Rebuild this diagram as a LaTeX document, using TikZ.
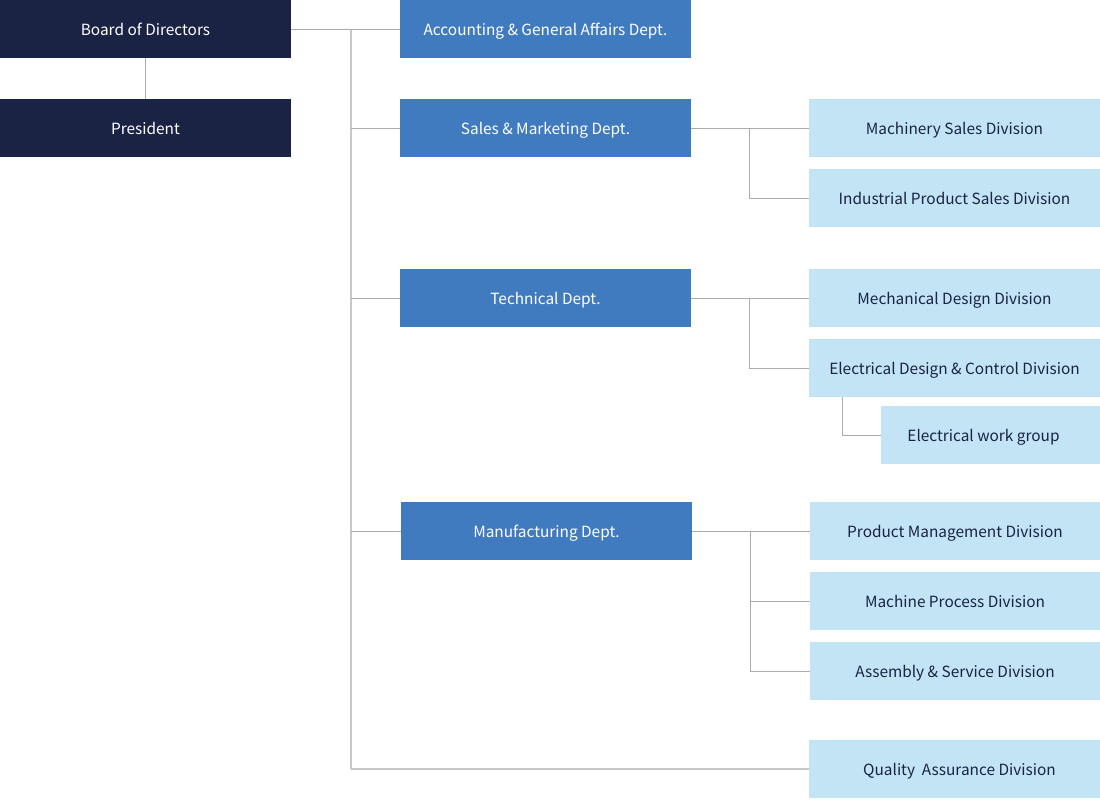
\documentclass[tikz,border=0pt]{standalone}
\usepackage{fontspec}
\setmainfont{Noto Sans CJK JP}
\definecolor{navy}{HTML}{1A2344}
\definecolor{dept}{HTML}{417BBF}
\definecolor{divi}{HTML}{C2E4F5}
\definecolor{ln}{HTML}{ABABAB}
\definecolor{trunk}{HTML}{C8C8C8}
\begin{document}
\begin{tikzpicture}[x=1pt,y=-1pt,
  box/.style={minimum width=291pt,minimum height=58pt,inner sep=0pt,text height=12.2pt,text depth=0pt,font=\fontsize{15.4}{17}\selectfont},
  topbox/.style={box,fill=navy,text=white},
  deptbox/.style={box,fill=dept,text=white},
  divbox/.style={box,fill=divi,text=navy},
  conn/.style={draw=ln,line width=1pt},
  trunkline/.style={draw=trunk,line width=1.5pt}]
\useasboundingbox (0,0) rectangle (1100,807);
\node[topbox] (board) at (145.5,29) {Board of Directors};
\node[topbox] (pres) at (145.5,128) {President};
\node[deptbox] (acc) at (545.5,29) {Accounting \& General Affairs Dept.};
\node[deptbox] (sales) at (545.5,128) {Sales \& Marketing Dept.};
\node[deptbox] (tech) at (545.5,298) {Technical Dept.};
\node[deptbox] (manu) at (546.5,531) {Manufacturing Dept.};
\node[divbox] (mach) at (954.5,128) {Machinery Sales Division};
\node[divbox] (ind) at (954.5,198) {Industrial Product Sales Division};
\node[divbox] (mech) at (954.5,298) {Mechanical Design Division};
\node[divbox] (elec) at (954.5,368) {Electrical Design \& Control Division};
\node[divbox,minimum width=219pt] (ework) at (990.5,435) {Electrical work group\kern14pt\relax};
\node[divbox,minimum width=290pt] (prod) at (955,531) {Product Management Division};
\node[divbox,minimum width=290pt] (mproc) at (955,601) {Machine Process Division};
\node[divbox,minimum width=290pt] (assy) at (955,671) {Assembly \& Service Division};
\node[divbox] (qa) at (954.5,769) {\hspace{10pt}Quality~ Assurance Division};
\coordinate (t0) at (351,29);
\coordinate (t1) at (351,769);
% board to president
\draw[conn] (board.south) -- (pres.north);
% trunk
\draw[trunkline] (t0) -- (t1);
\draw[conn] (board.east) -- (acc.west);
\draw[conn] (t0 |- sales.west) -- (sales.west);
\draw[conn] (t0 |- tech.west) -- (tech.west);
\draw[conn] (t0 |- manu.west) -- (manu.west);
\draw[trunkline] (t1) -- (qa.west);
% sales branch
\draw[conn] (sales.east) -- (mach.west);
\draw[conn] (749,128) |- (ind.west);
% tech branch
\draw[conn] (tech.east) -- (mech.west);
\draw[conn] (749,298) |- (elec.west);
\draw[conn] (842,397) |- (ework.west);
% manufacturing branch
\draw[conn] (manu.east) -- (prod.west);
\draw[conn] (750,531) |- (assy.west);
\draw[conn] (750,601) -- (mproc.west);
\end{tikzpicture}
\end{document}
